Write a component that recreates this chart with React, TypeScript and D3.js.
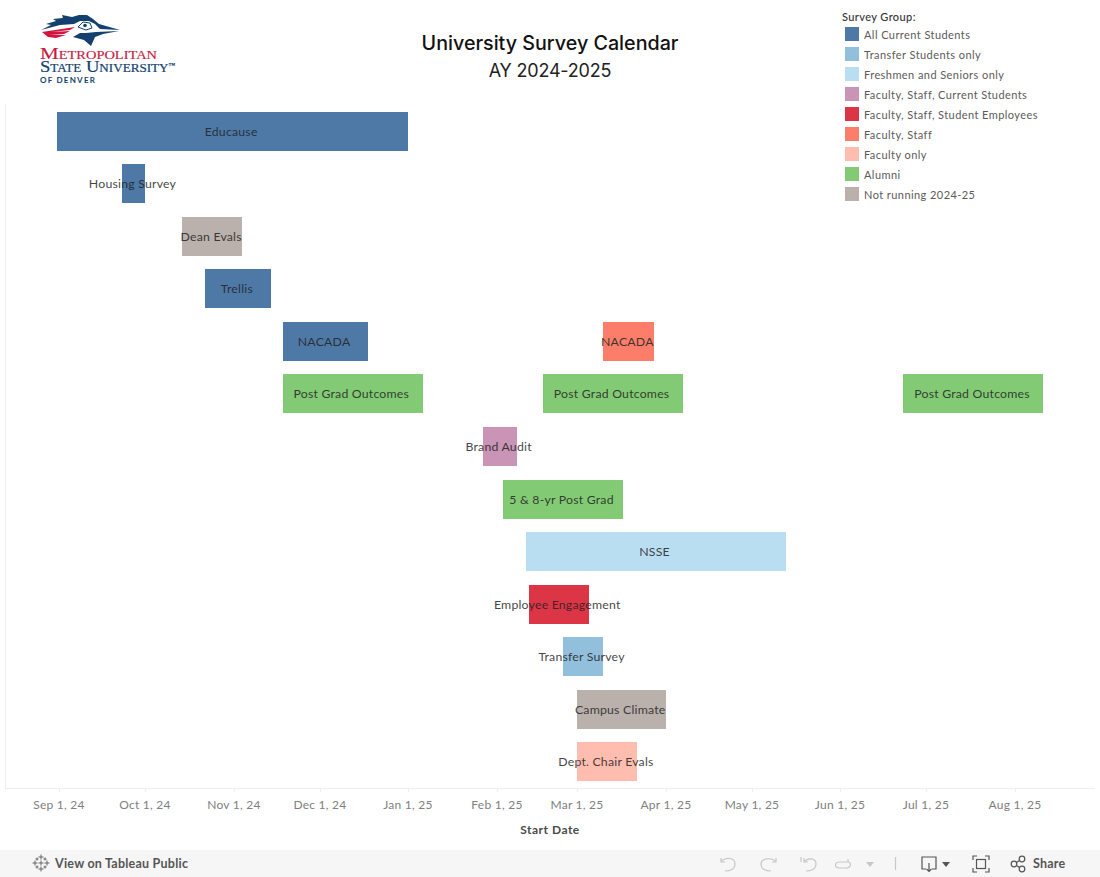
import React from "react";
import * as d3 from "d3";

const surveyNames = ["Educause","Housing Survey","Dean Evals","Trellis","NACADA","NACADA","Post Grad Outcomes","Post Grad Outcomes","Post Grad Outcomes","Brand Audit","5 & 8-yr Post Grad","NSSE","Employee Engagement","Transfer Survey","Campus Climate","Dept. Chair Evals"];
const rowIndex = [0,1,2,3,4,4,5,5,5,6,7,8,9,10,11,12];
const startDates = ["2024-08-31","2024-09-23","2024-10-14","2024-10-22","2024-11-18","2025-03-10","2024-11-18","2025-02-17","2025-06-23","2025-01-27","2025-02-03","2025-02-11","2025-02-12","2025-02-24","2025-03-01","2025-03-01"];
const endDates = ["2025-01-01","2024-10-01","2024-11-04","2024-11-14","2024-12-18","2025-03-28","2025-01-06","2025-04-07","2025-08-11","2025-02-08","2025-03-17","2025-05-13","2025-03-05","2025-03-10","2025-04-01","2025-03-22"];
const groupOf = [0,0,8,0,0,5,7,7,7,3,7,2,4,1,8,6];
const groupNames = ["All Current Students","Transfer Students only","Freshmen and Seniors only","Faculty, Staff, Current Students","Faculty, Staff, Student Employees","Faculty, Staff","Faculty only","Alumni","Not running 2024-25"];
const groupColors = ["#4e79a7","#92bfdb","#b9ddf1","#c994b5","#dc3545","#fc7e6a","#ffbdaf","#82ca74","#bab0ac"];
const tickDates = ["2024-09-01","2024-10-01","2024-11-01","2024-12-01","2025-01-01","2025-02-01","2025-03-01","2025-04-01","2025-05-01","2025-06-01","2025-07-01","2025-08-01"];
const tickLabels = ["Sep 1, 24","Oct 1, 24","Nov 1, 24","Dec 1, 24","Jan 1, 25","Feb 1, 25","Mar 1, 25","Apr 1, 25","May 1, 25","Jun 1, 25","Jul 1, 25","Aug 1, 25"];
const logoPlus = [[41,857,2.5],[41,869,2.5],[35,863,2.5],[47,863,2.5],[41,863,2.5],[37,859,1.5],[45,859,1.5],[37,867,1.5],[45,867,1.5]];

const FONT = "Lato, 'Open Sans', sans-serif";
const parse = (s: string) => new Date(s + "T00:00:00Z");
const x = d3.scaleUtc().domain([parse("2024-09-01"), parse("2025-08-01")]).range([59.4, 1014.81]);
const rows = d3.range(13);
const y = d3.scaleBand<number>().domain(rows).range([104.92, 788.07]).paddingInner(0.258).paddingOuter(0.129);

export default function App() {
  return (
    <svg width={1100} height={877} style={{ position: "absolute", left: 0, top: 0, display: "block", background: "#fff" }} fontFamily={FONT}>
      {/* logo */}
      <g>
        <path d="M41 30 L51 25 L46 24 L56 21 L53 19 L63 18 L62 15 L72 17 L79 15 L87 15 L93 19 L99 24 L120 30 L100 29 L95 24 L89 21 L80 21 L74 24 L60 25 Z" fill="#12406f" />
        <path d="M42 32 L75 27 L70 30 L52 32 L70 31 L64 34 L50 35 L66 35 L56 38 L48 37 Z" fill="#d2163f" />
        <path d="M73 37 L80 33 L86 33 L96 32 L119 31 L103 34 L95 37 L91 46 L84 40 Z" fill="#12406f" />
        <path d="M78 27 L83 22 L90 23 L92 28 L86 30 Z" fill="none" stroke="#12406f" strokeWidth={1} />
        <circle cx={85} cy={25.500} r={1.800} fill="#12406f" />
        <text x={40} y={59} fontFamily="'Liberation Serif', serif" fontSize={17.500} fontVariant="small-caps" fill="#c8193f" stroke="#c8193f" strokeWidth={0.15} textLength={117} lengthAdjust="spacingAndGlyphs">Metropolitan</text>
        <text x={40} y={71.500} fontFamily="'Liberation Serif', serif" fontSize={17} fontVariant="small-caps" fill="#12406f" stroke="#12406f" strokeWidth={0.2} textLength={135} lengthAdjust="spacingAndGlyphs">State University<tspan fontSize={6} dy={-5}>™</tspan></text>
        <text x={40} y={83} fontSize={8} fontWeight={700} fill="#12406f" letterSpacing={1.25}>OF DENVER</text>
      </g>

      <text x={550} y={50} textAnchor="middle" fontSize={19.700} fontWeight={500} fontFamily="Inter, sans-serif" fill="#111">University Survey Calendar</text>
      <text x={550} y={77} textAnchor="middle" fontSize={18} letterSpacing={-0.2} fontFamily="Inter, sans-serif" fill="#222">AY 2024-2025</text>

      {/* legend */}
      <text x={842} y={21} fontSize={11} fontWeight={500} letterSpacing={0.4} fill="#333">Survey Group:</text>
      {groupNames.map((g, i) => (
        <g key={g}>
          <rect x={845} y={27 + i * 20} width={14} height={14} fill={groupColors[i]} />
          <text x={864} y={39 + i * 20} fontSize={11} letterSpacing={0.43} fill="#5a5a5a">{g}</text>
        </g>
      ))}

      {/* frame */}
      <line x1={5.5} x2={5.5} y1={104} y2={788} stroke="#eeeeee" />
      <line x1={5} x2={1095} y1={788.5} y2={788.5} stroke="#eeeeee" />
      {tickDates.map((t, i) => {
        const tx = Math.round(x(parse(t)));
        return (
          <g key={t}>
            <line x1={tx + 0.5} x2={tx + 0.5} y1={788} y2={792} stroke="#eeeeee" />
            <text x={tx} y={809} textAnchor="middle" fontSize={12} letterSpacing={0.25} fill="#808080">{tickLabels[i]}</text>
          </g>
        );
      })}
      <text x={550} y={834} textAnchor="middle" fontSize={12} fontWeight={700} letterSpacing={0.5} fill="#4a4a4a">Start Date</text>

      {/* bars */}
      {surveyNames.map((n, i) => {
        const x0 = Math.round(x(parse(startDates[i])));
        const x1 = Math.round(x(parse(endDates[i])));
        return <rect key={i} x={x0} y={Math.round(y(rowIndex[i])!)} width={x1 - x0} height={Math.round(y.bandwidth())} fill={groupColors[groupOf[i]]} />;
      })}
      {surveyNames.map((n, i) => {
        const x0 = x(parse(startDates[i]));
        const x1 = x(parse(endDates[i]));
        return (
          <text key={i} x={(x0 + x1) / 2 - 1.3} y={y(rowIndex[i])! + y.bandwidth() / 2 + 4.500} textAnchor="middle" fontSize={12.300} letterSpacing={0.2} fill="#222" fillOpacity={0.85}>{n}</text>
        );
      })}

      {/* toolbar */}
      <rect x={0} y={850} width={1100} height={27} fill="#f6f6f6" />
      <g stroke="#666" strokeWidth={1} fill="none">
        {logoPlus.map(([cx, cy, r], i) => (
          <path key={i} d={`M${cx - r} ${cy} H${cx + r} M${cx} ${cy - r} V${cy + r}`} />
        ))}
      </g>
      <text x={55} y={868} fontSize={12.500} fontWeight={700} letterSpacing={0.23} fill="#555">View on Tableau Public</text>
      <g stroke="#c8c8c8" strokeWidth={1.2} fill="none">
        <path d="M721 858 V862 H725 M721 862 C725 857 735 857 735 864 C735 869 730 871 725 871" />
        <path d="M776 858 V862 H772 M776 862 C772 857 761 858 761 864 C761 869 766 871 771 871" />
        <path d="M801 857 V862 M804 858 V862 H808 M804 862 C808 857 816 858 816 864 C816 869 811 871 806 871" />
        <path d="M848 859 V862 H845 M848 862 H840 C834 862 834 868 840 868 H846 C851 868 852 862 848 862" />
        <line x1={895.500} x2={895.500} y1={857} y2={870} />
      </g>
      <path d="M866 862 H874 L870 867 Z" fill="#c8c8c8" />
      <g stroke="#555" strokeWidth={1.2} fill="none">
        <path d="M926 869 H922 V857 H936 V869 H932 M929 863 V871 M926.500 869 L929 871.500 L931.500 869" />
        <path d="M973 860 V856 H977 M985 856 H989 V860 M989 868 V872 H985 M977 872 H973 V868" />
        <rect x={976.500} y={859.500} width={9} height={9} />
        <circle cx={1014} cy={864} r={2.800} />
        <circle cx={1022} cy={859} r={2.800} />
        <circle cx={1022} cy={869} r={2.800} />
        <path d="M1016.500 862.500 L1019.500 860.500 M1016.500 865.500 L1019.500 867.500" />
      </g>
      <path d="M942 862 H950 L946 867 Z" fill="#555" />
      <text x={1033} y={868} fontSize={12.500} fontWeight={700} letterSpacing={0.2} fill="#555">Share</text>
    </svg>
  );
}
